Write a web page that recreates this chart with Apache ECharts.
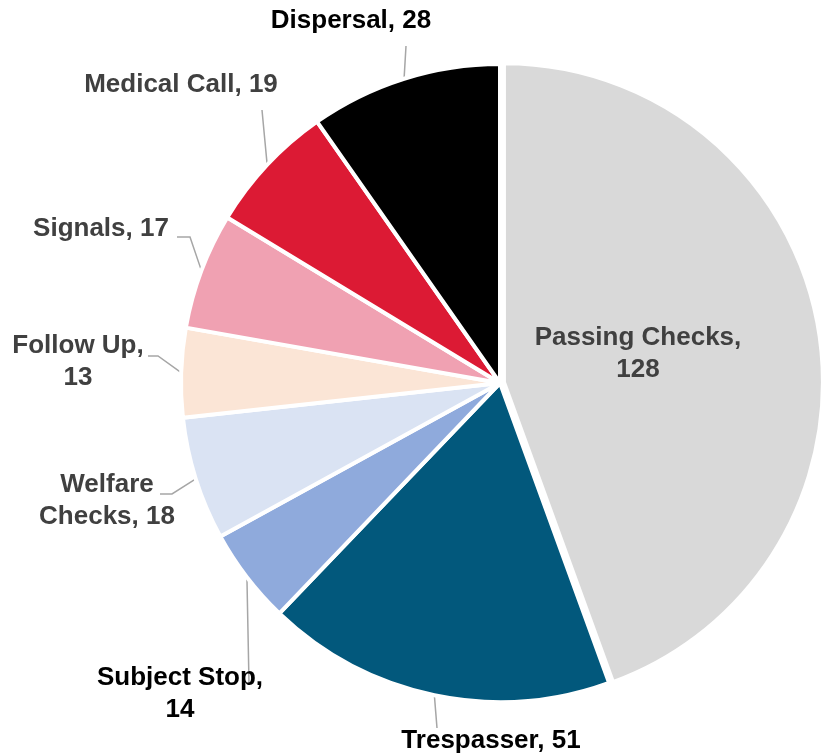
<!DOCTYPE html>
<html>
<head>
<meta charset="utf-8">
<script src="https://cdn.jsdelivr.net/npm/echarts@6/dist/echarts.min.js"></script>
<style>
  html, body { margin: 0; padding: 0; background: #fff; }
  #pie { width: 825px; height: 755px; }
</style>
</head>
<body>
<div id="pie"></div>
<script>
const categories = ['Passing Checks', 'Trespasser', 'Subject Stop', 'Welfare Checks', 'Follow Up', 'Signals', 'Medical Call', 'Dispersal'];
const counts = [128, 51, 14, 18, 13, 17, 19, 28];
const colors = ['#d9d9d9', '#02587c', '#8faadc', '#dae3f3', '#fbe5d6', '#f0a1b2', '#dc1a34', '#000000'];
const labelColors = ['#404040', '#000000', '#000000', '#404040', '#404040', '#404040', '#404040', '#000000'];

// where a data label wraps onto a second line
const breakAfter = {
    'Passing Checks': 'Passing Checks,',
    'Welfare Checks': 'Welfare',
    'Follow Up': 'Follow Up,',
    'Subject Stop': 'Subject Stop,'
};

// label centres + leader line bends, placed by hand like the original
const labelSpots = {
    'Trespasser': { x: 491, y: 741, line: [[437, 728]] },
    'Subject Stop': { x: 180, y: 694, line: [[249, 683]] },
    'Welfare Checks': { x: 107, y: 501, line: [[172, 494], [160, 494]] },
    'Follow Up': { x: 78, y: 362, line: [[158, 356], [148, 356]] },
    'Signals': { x: 101, y: 229, line: [[190, 237], [177, 237]] },
    'Medical Call': { x: 181, y: 85, line: [[262, 110]] },
    'Dispersal': { x: 351, y: 21, line: [[406, 46]] }
};

function labelText(p) {
    let t = p.name + ', ' + p.value;
    const b = breakAfter[p.name];
    if (b) {
        t = b + '\n' + t.slice(b.length + 1);
    }
    return t;
}

const pieData = categories.map(function (name, i) {
    const item = {
        name: name,
        value: counts[i],
        itemStyle: { color: colors[i] },
        label: { color: labelColors[i] }
    };
    if (i === 0) {
        // big slice: pulled out a little, label sits inside
        // (padding nudges the text left/up, offset gets lost in the select state)
        item.selected = true;
        item.label.position = 'inside';
        item.label.padding = [0, 52, 6, 0];
        item.labelLine = { show: false };
    }
    return item;
});

let pie = echarts.init(document.getElementById('pie'));
pie.setOption({
    animation: false,
    series: [
        {
            type: 'pie',
            center: [500, 383],
            radius: 319,
            startAngle: 90,
            clockwise: true,
            avoidLabelOverlap: false,
            selectedMode: 'single',
            selectedOffset: 4,
            itemStyle: {
                borderColor: '#ffffff',
                borderWidth: 4
            },
            select: {
                itemStyle: { borderColor: '#ffffff', borderWidth: 4 }
            },
            emphasis: { disabled: true },
            label: {
                show: true,
                position: 'outside',
                formatter: labelText,
                fontFamily: '"Liberation Sans", Arial, sans-serif',
                fontWeight: 'bold',
                fontSize: 26,
                lineHeight: 32,
                align: 'center'
            },
            labelLine: {
                show: true,
                lineStyle: { color: '#a6a6a6', width: 1.5 }
            },
            labelLayout: function (p) {
                const s = labelSpots[categories[p.dataIndex]];
                if (!s) {
                    return;
                }
                const out = { x: s.x, y: s.y, align: 'center', verticalAlign: 'middle' };
                if (s.line && p.labelLinePoints) {
                    const start = p.labelLinePoints[0];
                    let pts;
                    if (s.line.length === 1) {
                        const end = s.line[0];
                        pts = [start, [(start[0] + end[0]) / 2, (start[1] + end[1]) / 2], end];
                    } else {
                        pts = [start, s.line[0], s.line[1]];
                    }
                    out.labelLinePoints = pts;
                }
                return out;
            },
            data: pieData
        }
    ]
});
</script>
</body>
</html>
